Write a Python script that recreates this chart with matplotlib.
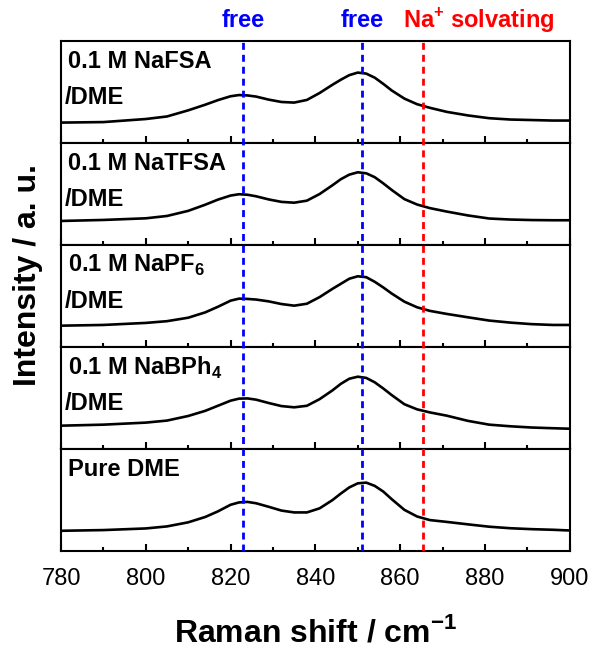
import numpy as np
import matplotlib
matplotlib.use("Agg")
import matplotlib.pyplot as plt
from matplotlib.ticker import MultipleLocator

plt.rcParams['font.family'] = ['Liberation Sans', 'DejaVu Sans']
plt.rcParams['mathtext.fontset'] = 'custom'
plt.rcParams['mathtext.rm'] = 'Liberation Sans'
plt.rcParams['mathtext.bf'] = 'Liberation Sans:bold'

# Raman shift grid (cm-1)
shift = [780, 790, 800, 805, 810, 814, 817, 820, 822, 824, 826, 829, 832, 835, 838, 841, 844,
         846, 848, 850, 852, 854, 856, 858, 861, 864, 867, 871, 876, 881, 886, 891, 896, 900]

# intensities (a.u.), top to bottom
nafsa = [0.20, 0.205, 0.235, 0.26, 0.32, 0.375, 0.42, 0.458, 0.47, 0.466, 0.455, 0.425, 0.402, 0.396, 0.422, 0.49, 0.57,
         0.62, 0.665, 0.69, 0.68, 0.64, 0.58, 0.515, 0.435, 0.38, 0.345, 0.305, 0.27, 0.243, 0.23, 0.225, 0.22, 0.22]
natfsa = [0.236, 0.246, 0.262, 0.285, 0.335, 0.395, 0.445, 0.485, 0.498, 0.493, 0.478, 0.447, 0.423, 0.415, 0.435, 0.50, 0.585,
          0.645, 0.69, 0.713, 0.703, 0.665, 0.605, 0.54, 0.45, 0.397, 0.362, 0.328, 0.29, 0.26, 0.25, 0.245, 0.243, 0.243]
napf6 = [0.21, 0.217, 0.237, 0.254, 0.288, 0.34, 0.395, 0.455, 0.475, 0.472, 0.466, 0.448, 0.422, 0.406, 0.425, 0.49, 0.57,
         0.62, 0.67, 0.694, 0.685, 0.64, 0.585, 0.525, 0.445, 0.39, 0.355, 0.325, 0.292, 0.26, 0.24, 0.225, 0.217, 0.217]
nabph4 = [0.23, 0.24, 0.26, 0.28, 0.325, 0.375, 0.425, 0.475, 0.495, 0.497, 0.485, 0.452, 0.422, 0.41, 0.425, 0.49, 0.575,
          0.64, 0.69, 0.71, 0.698, 0.655, 0.595, 0.53, 0.44, 0.39, 0.36, 0.328, 0.277, 0.24, 0.224, 0.212, 0.205, 0.20]
pure = [0.20, 0.207, 0.223, 0.243, 0.283, 0.335, 0.39, 0.455, 0.478, 0.483, 0.47, 0.435, 0.398, 0.38, 0.38, 0.42, 0.50,
        0.565, 0.625, 0.665, 0.672, 0.64, 0.585, 0.51, 0.405, 0.34, 0.305, 0.287, 0.263, 0.24, 0.225, 0.216, 0.21, 0.203]

spectra = [nafsa, natfsa, napf6, nabph4, pure]
labels = [('0.1 M NaFSA', '/DME'),
          ('0.1 M NaTFSA', '/DME'),
          (r'0.1 M NaPF$_\mathbf{6}$', '/DME'),
          (r'0.1 M NaBPh$_\mathbf{4}$', '/DME'),
          ('Pure DME', None)]

# reference band positions
bands = [823, 851, 865.5]
band_colors = ['#0000ff', '#0000ff', '#ff0000']
band_names = ['free', 'free', r'Na$^\mathbf{+}$ solvating']
name_x = [823, 851, 878.5]

fig, axes = plt.subplots(5, 1, figsize=(6.01, 6.5), dpi=100, sharex=True)
fig.subplots_adjust(left=0.1015, right=0.948, top=0.937, bottom=0.152, hspace=0)

for ax, y, lab in zip(axes, spectra, labels):
    ax.plot(shift, y, color='black', lw=1.9, solid_joinstyle='round')
    ax.set_xlim(780, 900)
    ax.set_ylim(0, 1)
    ax.set_yticks([])
    ax.xaxis.set_major_locator(MultipleLocator(20))
    ax.xaxis.set_minor_locator(MultipleLocator(10))
    ax.tick_params(axis='x', which='major', direction='in', length=5, width=1.5, labelsize=17, pad=12)
    ax.tick_params(axis='x', which='minor', direction='in', length=3, width=1.5)
    for s in ax.spines.values():
        s.set_linewidth(1.5)
    ax.text(0.014, 0.80, lab[0], transform=ax.transAxes, fontsize=17,
            fontweight='bold', va='center', ha='left')
    if lab[1]:
        ax.text(0.008, 0.45, lab[1], transform=ax.transAxes, fontsize=17,
                fontweight='bold', va='center', ha='left')

# overlay for the dashed band markers across all panels
pos0 = axes[0].get_position()
pos4 = axes[-1].get_position()
over = fig.add_axes([pos0.x0, pos4.y0, pos0.width, pos0.y1 - pos4.y0])
over.set_xlim(780, 900)
over.set_ylim(0, 1)
over.axis('off')
for b, c, n, nx in zip(bands, band_colors, band_names, name_x):
    over.axvline(b, color=c, lw=2, ls=(0, (2.5, 1.8)))
    over.text(nx, 1.041, n, color=c, fontsize=17, fontweight='bold',
              ha='center', va='center', transform=over.get_xaxis_transform())

fig.text(0.525, 1 - 632 / 650, r'Raman shift / cm$^{\mathbf{-1}}$', fontsize=23,
         fontweight='bold', ha='center', va='center')
fig.text(0.047, 1 - 275 / 650, 'Intensity / a. u.', fontsize=23, fontweight='bold',
         rotation=90, ha='center', va='center')

fig.savefig('out.png', dpi=100)
